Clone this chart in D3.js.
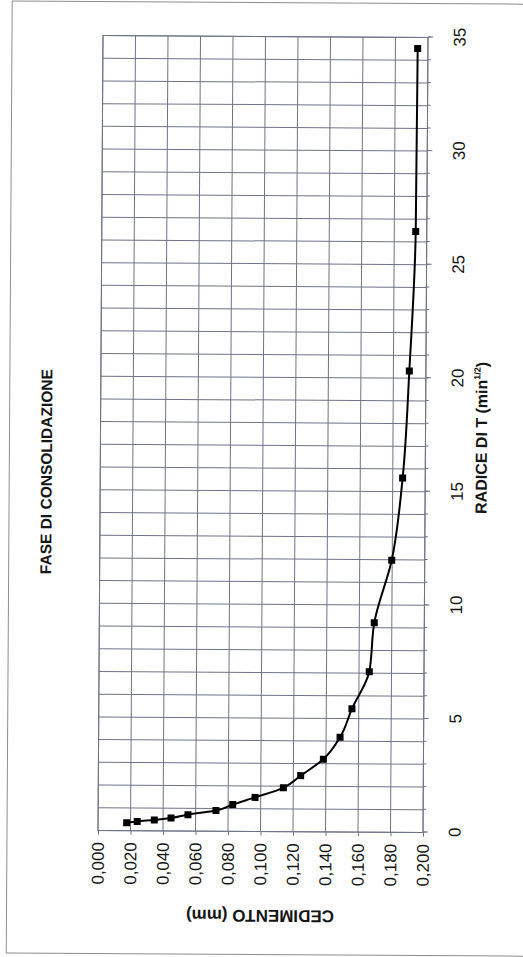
<!DOCTYPE html>
<html>
<head>
<meta charset="utf-8">
<script src="https://cdn.jsdelivr.net/npm/d3@7"></script>
<style>
  body { margin: 0; background: #fff; }
  svg { display: block; }
  text { font-family: "Liberation Sans", Arial, sans-serif; fill: #151515; }
</style>
</head>
<body>
<svg id="chart" width="523" height="957"></svg>
<script>
// Consolidation phase: settlement against square root of time
const sqrtT = [0.35, 0.41, 0.48, 0.57, 0.72, 0.91, 1.18, 1.50, 1.93, 2.47,
               3.20, 4.17, 5.43, 7.06, 9.22, 11.98, 15.60, 20.31, 26.46, 34.51];
const cedimento = [0.0176, 0.0241, 0.0346, 0.0449, 0.0553, 0.0725, 0.0828, 0.0965, 0.1139, 0.1245,
                   0.1384, 0.1486, 0.1558, 0.1663, 0.1692, 0.1797, 0.1861, 0.1898, 0.1932, 0.1937];
const xTicks = [0, 5, 10, 15, 20, 25, 30, 35];
const xMinorTicks = d3.range(0, 36, 1);
const yTicks = [0, 0.02, 0.04, 0.06, 0.08, 0.10, 0.12, 0.14, 0.16, 0.18, 0.20];
const chartTitle = "FASE DI CONSOLIDAZIONE";
const xTitle = "RADICE DI T (min";
const xTitleSup = "1/2";
const yTitle = "CEDIMENTO (mm)";

const points = sqrtT.map((t, i) => ({ t, c: cedimento[i] }));

const svg = d3.select("#chart");

// whole sheet sits slightly tilted
const page = svg.append("g").attr("transform", "rotate(0.36,263,434)");

// outer frame of the sheet
page.append("rect")
  .attr("x", 9.5).attr("y", 2.5)
  .attr("width", 540).attr("height", 952)
  .attr("fill", "none").attr("stroke", "#8d8d8d").attr("stroke-width", 1);

// the chart is laid out landscape (957 x 523) and turned a quarter turn
const g = page.append("g").attr("transform", "translate(0,957) rotate(-90)");

const x = d3.scaleLinear().domain([0, 35]).range([125.5, 920.5]);
const y = d3.scaleLinear().domain([0, 0.2]).range([100.5, 425.5]);

const gridColor = "#6f7386";

// grid: one line per unit of sqrt(t), one per 0.020 mm
g.append("g").selectAll("line").data(xMinorTicks).join("line")
  .attr("x1", d => x(d)).attr("x2", d => x(d))
  .attr("y1", y(0)).attr("y2", y(0.2))
  .attr("stroke", gridColor).attr("stroke-width", 1);

g.append("g").selectAll("line").data(yTicks).join("line")
  .attr("x1", x(0)).attr("x2", x(35))
  .attr("y1", d => y(d)).attr("y2", d => y(d))
  .attr("stroke", gridColor).attr("stroke-width", 1);

// x axis: minor ticks every unit, labelled major ticks every 5
const xMinor = g.append("g").attr("transform", `translate(0,${y(0.2)})`)
  .call(d3.axisBottom(x).tickValues(xMinorTicks).tickSize(3).tickFormat(""));
const xMajor = g.append("g").attr("transform", `translate(0,${y(0.2)})`)
  .call(d3.axisBottom(x).tickValues(xTicks).tickSize(5).tickPadding(20.5).tickFormat(d3.format("d")));

// y axis (settlement grows downward)
const fmt = d3.format(".3f");
const yAxis = g.append("g").attr("transform", `translate(${x(0)},0)`)
  .call(d3.axisLeft(y).tickValues(yTicks).tickSize(4).tickPadding(7.5)
    .tickFormat(d => fmt(d).replace(".", ",")));

[xMinor, xMajor, yAxis].forEach(a => {
  a.select(".domain").remove();
  a.selectAll(".tick line").attr("stroke", gridColor);
  a.selectAll(".tick text").attr("font-size", 17).attr("fill", "#151515")
    .attr("font-family", "'Liberation Sans', Arial, sans-serif");
});

// plot border
g.append("rect")
  .attr("x", x(0)).attr("y", y(0))
  .attr("width", x(35) - x(0)).attr("height", y(0.2) - y(0))
  .attr("fill", "none").attr("stroke", gridColor).attr("stroke-width", 1);

// settlement curve
g.append("path").datum(points)
  .attr("d", d3.line().x(d => x(d.t)).y(d => y(d.c)).curve(d3.curveMonotoneX))
  .attr("fill", "none").attr("stroke", "#000").attr("stroke-width", 2);

const ms = 7;
g.append("g").selectAll("rect").data(points).join("rect")
  .attr("x", d => x(d.t) - ms / 2).attr("y", d => y(d.c) - ms / 2)
  .attr("width", ms).attr("height", ms).attr("fill", "#000");

// titles
g.append("text")
  .attr("x", 484).attr("y", 52)
  .attr("text-anchor", "middle").attr("font-size", 15.5).attr("font-weight", "bold")
  .text(chartTitle);

const xt = g.append("text")
  .attr("x", 520.5).attr("y", 487)
  .attr("text-anchor", "middle").attr("font-size", 16).attr("font-weight", "bold");
xt.append("tspan").text(xTitle);
xt.append("tspan").attr("font-size", 9).attr("dy", -7).text(xTitleSup);
xt.append("tspan").attr("dy", 7).text(")");

g.append("text")
  .attr("transform", `translate(47,${(y(0) + y(0.2)) / 2}) rotate(-90)`)
  .attr("text-anchor", "middle").attr("font-size", 17).attr("font-weight", "bold")
  .text(yTitle);
</script>
</body>
</html>
